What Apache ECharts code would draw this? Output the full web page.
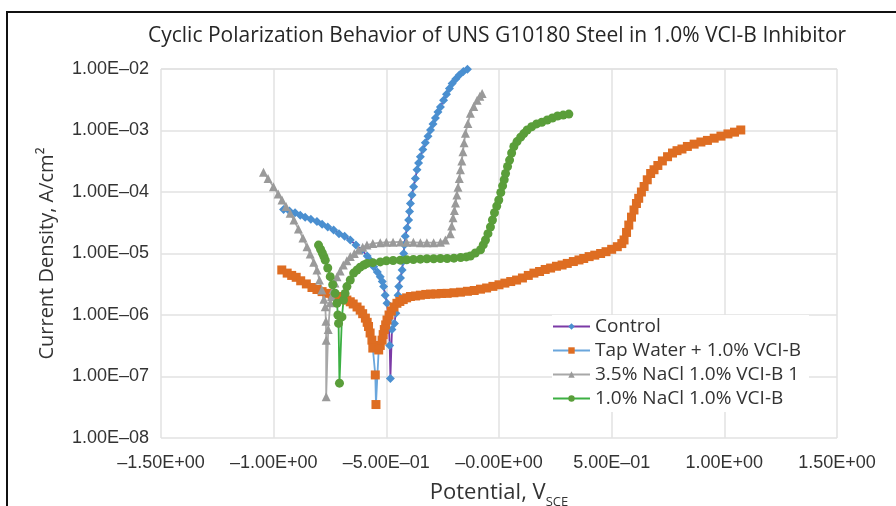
<!DOCTYPE html>
<html>
<head>
<meta charset="utf-8">
<script src="https://cdn.jsdelivr.net/npm/echarts@6/dist/echarts.min.js"></script>
<style>
  html, body { margin: 0; padding: 0; background: #fff; }
  #wrap { position: relative; width: 896px; height: 506px; overflow: hidden; }
  #chart { width: 896px; height: 506px; }
  #frame { position: absolute; left: 6px; top: 11px; width: 900px; height: 510px;
           border-left: 2.5px solid #111; border-top: 2.5px solid #111; pointer-events: none; }
</style>
</head>
<body>
<div id="wrap">
  <div id="chart"></div>
  <div id="frame"></div>
</div>
<script>
// chart texts
var chartTitle = 'Cyclic Polarization Behavior of UNS G10180 Steel in 1.0% VCI-B Inhibitor';
var seriesNames = ['Control', 'Tap Water + 1.0% VCI-B', '3.5% NaCl 1.0% VCI-B 1', '1.0% NaCl 1.0% VCI-B'];
var xTickLabels = ['\u20131.50E+00', '\u20131.00E+00', '\u20135.00E\u201301', '\u20130.00E+00', '5.00E\u201301', '1.00E+00', '1.50E+00'];
var yTickLabels = ['1.00E\u201308', '1.00E\u201307', '1.00E\u201306', '1.00E\u201305', '1.00E\u201304', '1.00E\u201303', '1.00E\u201302'];

// [potential V, current density A/cm2]
var controlData = [
  [-0.956, 5.2e-5], [-0.930, 4.9e-5], [-0.905, 4.6e-5], [-0.882, 4.2e-5], [-0.860, 3.9e-5],
  [-0.835, 3.6e-5], [-0.808, 3.3e-5], [-0.785, 3.0e-5], [-0.760, 2.7e-5], [-0.734, 2.4e-5],
  [-0.710, 2.1e-5], [-0.685, 1.9e-5], [-0.660, 1.66e-5], [-0.635, 1.38e-5], [-0.608, 1.14e-5],
  [-0.585, 9.1e-6], [-0.570, 7.6e-6], [-0.556, 6.1e-6], [-0.540, 5.0e-6], [-0.527, 4.2e-6],
  [-0.518, 3.5e-6], [-0.512, 2.9e-6], [-0.505, 2.1e-6], [-0.497, 1.55e-6], [-0.490, 8.3e-7],
  [-0.485, 3.2e-7], [-0.482, 9.3e-8], [-0.475, 5.8e-7], [-0.464, 7.3e-7], [-0.458, 1.07e-6],
  [-0.452, 1.55e-6], [-0.448, 2.1e-6], [-0.445, 2.9e-6], [-0.437, 4.0e-6], [-0.430, 5.4e-6],
  [-0.426, 7.4e-6], [-0.423, 1.0e-5], [-0.420, 1.38e-5], [-0.416, 1.9e-5], [-0.408, 2.6e-5],
  [-0.401, 3.5e-5], [-0.397, 4.8e-5], [-0.393, 6.5e-5], [-0.386, 8.9e-5], [-0.379, 1.22e-4],
  [-0.371, 1.66e-4], [-0.364, 2.3e-4], [-0.357, 2.95e-4], [-0.349, 3.75e-4], [-0.338, 4.9e-4],
  [-0.327, 6.3e-4], [-0.315, 8.1e-4], [-0.304, 1.02e-3], [-0.293, 1.27e-3], [-0.282, 1.6e-3],
  [-0.271, 2.0e-3], [-0.260, 2.4e-3], [-0.246, 3.1e-3], [-0.233, 3.9e-3], [-0.220, 4.8e-3],
  [-0.208, 5.8e-3], [-0.192, 6.9e-3], [-0.176, 8.0e-3], [-0.158, 9.1e-3], [-0.140, 9.9e-3]
];
var tapWaterData = [
  [-0.964, 5.4e-6], [-0.940, 4.8e-6], [-0.920, 4.4e-6], [-0.900, 4.1e-6], [-0.880, 3.6e-6],
  [-0.855, 3.2e-6], [-0.830, 2.8e-6], [-0.808, 2.6e-6], [-0.785, 2.4e-6], [-0.763, 2.25e-6],
  [-0.740, 2.1e-6], [-0.719, 2.0e-6], [-0.697, 1.86e-6], [-0.675, 1.75e-6], [-0.660, 1.64e-6],
  [-0.647, 1.51e-6], [-0.630, 1.35e-6], [-0.616, 1.2e-6], [-0.605, 1.05e-6], [-0.593, 8.9e-7],
  [-0.585, 7.6e-7], [-0.579, 6.5e-7], [-0.572, 5.1e-7], [-0.564, 3.9e-7], [-0.560, 2.9e-7],
  [-0.549, 1.06e-7], [-0.546, 3.5e-8], [-0.534, 2.7e-7], [-0.527, 3.2e-7], [-0.519, 3.9e-7],
  [-0.514, 4.8e-7], [-0.509, 5.8e-7], [-0.503, 6.9e-7], [-0.497, 8.3e-7], [-0.488, 1.0e-6],
  [-0.478, 1.16e-6], [-0.466, 1.35e-6], [-0.453, 1.55e-6], [-0.440, 1.66e-6], [-0.425, 1.78e-6],
  [-0.410, 1.9e-6], [-0.393, 2.0e-6], [-0.370, 2.04e-6], [-0.349, 2.1e-6], [-0.325, 2.16e-6],
  [-0.304, 2.19e-6], [-0.280, 2.2e-6], [-0.255, 2.24e-6], [-0.230, 2.25e-6], [-0.200, 2.3e-6],
  [-0.171, 2.35e-6], [-0.140, 2.43e-6], [-0.110, 2.5e-6], [-0.082, 2.63e-6], [-0.055, 2.75e-6],
  [-0.027, 2.92e-6], [0.000, 3.1e-6], [0.026, 3.3e-6], [0.052, 3.5e-6], [0.078, 3.7e-6],
  [0.104, 4.0e-6], [0.130, 4.4e-6], [0.155, 4.8e-6], [0.180, 5.1e-6], [0.205, 5.5e-6],
  [0.229, 5.8e-6], [0.255, 6.2e-6], [0.280, 6.5e-6], [0.303, 6.9e-6], [0.330, 7.4e-6],
  [0.355, 7.85e-6], [0.376, 8.3e-6], [0.400, 8.9e-6], [0.425, 9.4e-6], [0.451, 1.0e-5],
  [0.475, 1.07e-5], [0.500, 1.17e-5], [0.525, 1.29e-5], [0.545, 1.45e-5], [0.555, 1.66e-5],
  [0.566, 2.2e-5], [0.576, 2.9e-5], [0.588, 3.9e-5], [0.599, 5.1e-5], [0.610, 6.5e-5],
  [0.620, 7.9e-5], [0.632, 1.0e-4], [0.644, 1.23e-4], [0.658, 1.58e-4], [0.673, 2.0e-4],
  [0.688, 2.3e-4], [0.705, 2.7e-4], [0.725, 3.2e-4], [0.748, 3.75e-4], [0.770, 4.3e-4],
  [0.790, 4.7e-4], [0.812, 5.0e-4], [0.836, 5.5e-4], [0.866, 6.0e-4], [0.896, 6.5e-4],
  [0.925, 6.9e-4], [0.955, 7.5e-4], [0.985, 8.1e-4], [1.016, 8.8e-4], [1.045, 9.4e-4],
  [1.073, 1.02e-3]
];
var nacl35Data = [
  [-1.045, 2.1e-4], [-1.025, 1.66e-4], [-1.001, 1.22e-4], [-0.980, 9.3e-5], [-0.963, 7.4e-5],
  [-0.945, 5.8e-5], [-0.927, 4.5e-5], [-0.910, 3.5e-5], [-0.890, 2.5e-5], [-0.870, 1.78e-5],
  [-0.852, 1.29e-5], [-0.838, 9.8e-6], [-0.822, 7.2e-6], [-0.808, 5.4e-6], [-0.797, 3.7e-6],
  [-0.786, 2.55e-6], [-0.777, 1.8e-6], [-0.771, 1.36e-6], [-0.768, 7.9e-7], [-0.767, 3.9e-7],
  [-0.767, 4.7e-8], [-0.758, 5.8e-7], [-0.749, 1.58e-6], [-0.743, 2.0e-6], [-0.736, 2.6e-6],
  [-0.728, 3.3e-6], [-0.719, 4.2e-6], [-0.705, 5.2e-6], [-0.691, 6.5e-6], [-0.675, 7.6e-6],
  [-0.660, 8.9e-6], [-0.642, 1.0e-5], [-0.624, 1.14e-5], [-0.605, 1.26e-5], [-0.586, 1.37e-5],
  [-0.560, 1.45e-5], [-0.527, 1.5e-5], [-0.500, 1.52e-5], [-0.470, 1.53e-5], [-0.438, 1.54e-5],
  [-0.410, 1.53e-5], [-0.380, 1.52e-5], [-0.349, 1.5e-5], [-0.320, 1.5e-5], [-0.290, 1.5e-5],
  [-0.260, 1.52e-5], [-0.238, 1.66e-5], [-0.216, 2.1e-5], [-0.210, 2.8e-5], [-0.204, 3.8e-5],
  [-0.198, 5.0e-5], [-0.193, 6.6e-5], [-0.187, 8.9e-5], [-0.182, 1.2e-4], [-0.176, 1.66e-4],
  [-0.171, 2.3e-4], [-0.165, 3.2e-4], [-0.160, 4.5e-4], [-0.155, 6.3e-4], [-0.149, 9.0e-4],
  [-0.138, 1.3e-3], [-0.127, 1.9e-3], [-0.112, 2.45e-3], [-0.097, 3.1e-3], [-0.085, 3.6e-3],
  [-0.075, 4.0e-3]
];
var nacl10Data = [
  [-0.801, 1.37e-5], [-0.792, 1.17e-5], [-0.784, 1.02e-5], [-0.777, 8.9e-6], [-0.771, 7.8e-6],
  [-0.760, 5.8e-6], [-0.749, 4.2e-6], [-0.738, 3.1e-6], [-0.727, 2.25e-6], [-0.719, 1.55e-6],
  [-0.715, 1.0e-6], [-0.712, 7.3e-7], [-0.708, 7.8e-8], [-0.697, 9.3e-7], [-0.690, 1.75e-6],
  [-0.683, 2.24e-6], [-0.675, 2.9e-6], [-0.660, 3.7e-6], [-0.645, 4.8e-6], [-0.630, 5.4e-6],
  [-0.616, 6.0e-6], [-0.600, 6.5e-6], [-0.586, 6.9e-6], [-0.560, 7.1e-6], [-0.527, 7.3e-6],
  [-0.500, 7.6e-6], [-0.470, 7.7e-6], [-0.438, 7.8e-6], [-0.410, 7.9e-6], [-0.380, 8.0e-6],
  [-0.349, 8.1e-6], [-0.320, 8.2e-6], [-0.290, 8.2e-6], [-0.260, 8.3e-6], [-0.230, 8.3e-6],
  [-0.200, 8.4e-6], [-0.170, 8.6e-6], [-0.145, 8.8e-6], [-0.127, 9.1e-6], [-0.105, 1.02e-5],
  [-0.082, 1.15e-5], [-0.070, 1.38e-5], [-0.060, 1.66e-5], [-0.049, 2.1e-5], [-0.038, 2.7e-5],
  [-0.029, 3.5e-5], [-0.020, 4.6e-5], [-0.010, 5.9e-5], [-0.001, 7.4e-5], [0.008, 9.8e-5],
  [0.016, 1.26e-4], [0.023, 1.58e-4], [0.029, 2.0e-4], [0.038, 2.6e-4], [0.047, 3.3e-4],
  [0.056, 4.3e-4], [0.066, 5.5e-4], [0.080, 6.6e-4], [0.096, 7.8e-4], [0.110, 8.9e-4],
  [0.125, 1.02e-3], [0.145, 1.15e-3], [0.167, 1.28e-3], [0.190, 1.36e-3], [0.214, 1.48e-3],
  [0.237, 1.6e-3], [0.260, 1.72e-3], [0.285, 1.78e-3], [0.310, 1.85e-3]
];

var myChart = echarts.init(document.getElementById('chart'), null, { renderer: 'canvas' });

function makeSeries(name, data, symbol, size, markColor, lineColor) {
  return {
    name: name,
    type: 'line',
    data: data,
    symbol: symbol,
    symbolSize: size,
    showAllSymbol: true,
    smooth: false,
    itemStyle: { color: markColor },
    lineStyle: { color: lineColor, width: 1.8 },
    emphasis: { disabled: true }
  };
}

var option = {
  animation: false,
  backgroundColor: '#fff',
  title: {
    text: chartTitle,
    left: 143,
    top: 21,
    textStyle: { fontFamily: 'Open Sans', fontSize: 21, fontWeight: 'normal', color: '#262626' }
  },
  legend: {
    orient: 'vertical',
    left: 552,
    top: 315,
    itemWidth: 37,
    itemHeight: 8,
    itemGap: 5,
    backgroundColor: '#fff',
    padding: [2, 8, 4, 0],
    textStyle: { fontFamily: 'Open Sans', fontSize: 19, color: '#333' },
    data: seriesNames
  },
  grid: { left: 161, right: 59, top: 69, bottom: 68, containLabel: false, outerBoundsMode: 'none' },
  xAxis: {
    type: 'value',
    min: -1.5,
    max: 1.5,
    interval: 0.5,
    name: 'Potential, V{s|SCE}',
    nameLocation: 'middle',
    nameGap: 39,
    nameTextStyle: {
      fontFamily: 'Open Sans', fontSize: 22, color: '#333',
      rich: { s: { fontFamily: 'Open Sans', fontSize: 13, color: '#333', padding: [19, 0, 0, 0] } }
    },
    axisLine: { show: false },
    axisTick: { show: false },
    axisLabel: {
      margin: 16,
      fontFamily: 'Liberation Sans', fontSize: 18, color: '#333',
      formatter: function (v) { return xTickLabels[Math.round((v + 1.5) / 0.5)]; }
    },
    splitLine: { show: true, lineStyle: { color: '#e2e2e2', width: 1.5 } }
  },
  yAxis: {
    type: 'log',
    logBase: 10,
    min: 1e-8,
    max: 1e-2,
    name: 'Current Density, A/cm\u00b2',
    nameLocation: 'middle',
    nameGap: 104,
    nameRotate: 90,
    nameTextStyle: { fontFamily: 'Open Sans', fontSize: 20, color: '#333' },
    axisLine: { show: false },
    axisTick: { show: false },
    axisLabel: {
      margin: 12,
      fontFamily: 'Liberation Sans', fontSize: 18, color: '#333',
      formatter: function (v) { return yTickLabels[Math.round(Math.log10(v)) + 8]; }
    },
    splitLine: { show: true, lineStyle: { color: '#e2e2e2', width: 1.5 } }
  },
  series: [
    makeSeries(seriesNames[0], controlData, 'diamond', 9, '#4a8fd0', '#7b3aa6'),
    makeSeries(seriesNames[1], tapWaterData, 'rect', 9, '#de6d22', '#6aa6dc'),
    makeSeries(seriesNames[2], nacl35Data, 'triangle', 9, '#9a9a9a', '#a8a8a8'),
    makeSeries(seriesNames[3], nacl10Data, 'circle', 9, '#5a9e3a', '#3cb043')
  ]
};

myChart.setOption(option);
window.onresize = myChart.resize;
</script>
</body>
</html>
